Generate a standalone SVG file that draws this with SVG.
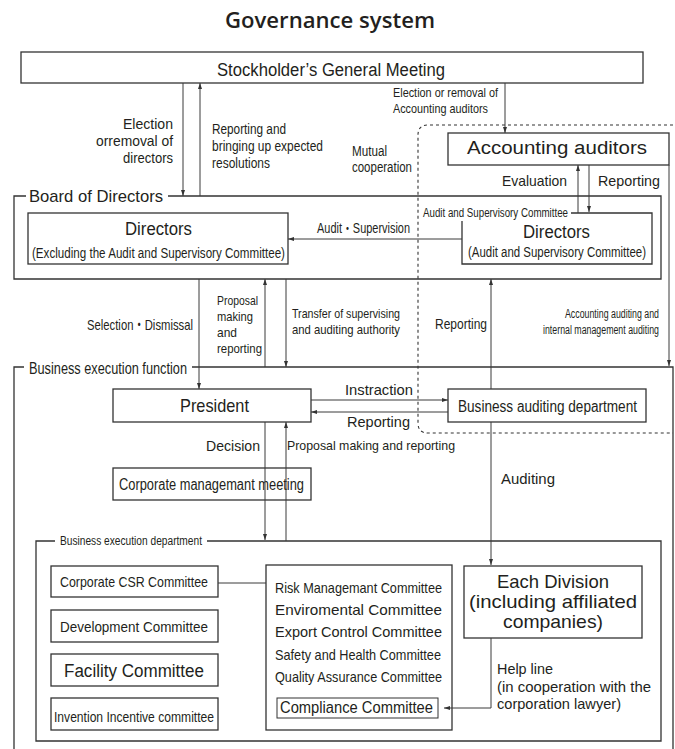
<svg xmlns="http://www.w3.org/2000/svg" width="675" height="749" viewBox="0 0 675 749">
<style>
.r{font-family:"Liberation Sans","Noto Sans CJK JP",sans-serif;fill:#231f20}
.c{font-family:"Liberation Sans Narrow","Liberation Sans","Noto Sans CJK JP",sans-serif;fill:#231f20}
.box{fill:#fff;stroke:#333;stroke-width:1.3}
.fr{fill:none;stroke:#333;stroke-width:1.3}
.ln{fill:none;stroke:#3a3a3a;stroke-width:1}
.ar{fill:none;stroke:#3a3a3a;stroke-width:1;marker-end:url(#ah)}
.dash{fill:none;stroke:#333;stroke-width:1.1;stroke-dasharray:3 3}
</style>
<defs>
<marker id="ah" viewBox="0 0 6 4" refX="6" refY="2" markerWidth="6" markerHeight="4" orient="auto" markerUnits="userSpaceOnUse"><path d="M0,0 L6,2 L0,4 z" fill="#333"/></marker>
</defs>
<rect width="675" height="749" fill="#fff"/>
<text x="225" y="28" font-family="'Open Sans','Noto Sans','Liberation Sans',sans-serif" font-size="22" font-weight="600" fill="#231f20" textLength="210" lengthAdjust="spacingAndGlyphs">Governance system</text>

<g id="frames">
<path class="dash" d="M673,125 H428 Q418,125 418,135 V423 Q418,433 428,433 H673"/>
<path class="fr" d="M26,196 H14 V279 H661 V196 H168"/>
<text class="r" x="29" y="202" font-size="17" textLength="134" lengthAdjust="spacingAndGlyphs">Board of Directors</text>
<path class="fr" d="M24,367 H14 V749 M192,367 H673 V749"/>
<text class="c" x="29" y="374" font-size="16" textLength="158" lengthAdjust="spacingAndGlyphs">Business execution function</text>
<path class="fr" d="M55,541 H36 V741 H661 V541 H207"/>
<text class="c" x="60" y="545" font-size="12" textLength="142" lengthAdjust="spacingAndGlyphs">Business execution department</text>
</g>

<g id="stockholders">
<rect class="box" x="21" y="52" width="622" height="31"/>
<text class="r" x="217" y="76" font-size="18" textLength="228" lengthAdjust="spacingAndGlyphs">Stockholder’s General Meeting</text>
</g>
<g id="accounting-auditors">
<rect class="box" x="448" y="133" width="221" height="32"/>
<text class="r" x="467" y="154" font-size="18" textLength="180" lengthAdjust="spacingAndGlyphs">Accounting auditors</text>
</g>
<g id="directors-ex">
<rect class="box" x="28" y="213" width="260" height="51"/>
<text class="r" x="125" y="235" font-size="18" textLength="67" lengthAdjust="spacingAndGlyphs">Directors</text>
<text class="c" x="32" y="258" font-size="14" textLength="253" lengthAdjust="spacingAndGlyphs">(Excluding the Audit and Supervisory Committee)</text>
</g>
<g id="directors-asc">
<path class="fr" d="M571,213 H652 V264 H462 V221"/>
<text class="c" x="423" y="217" font-size="12" textLength="145" lengthAdjust="spacingAndGlyphs">Audit and Supervisory Committee</text>
<text class="r" x="523" y="238" font-size="18" textLength="67" lengthAdjust="spacingAndGlyphs">Directors</text>
<text class="c" x="468" y="257" font-size="14" textLength="178" lengthAdjust="spacingAndGlyphs">(Audit and Supervisory Committee)</text>
</g>
<g id="president">
<rect class="box" x="113" y="389" width="198" height="33"/>
<text class="r" x="180" y="412" font-size="19" textLength="69" lengthAdjust="spacingAndGlyphs">President</text>
</g>
<g id="business-auditing">
<rect class="box" x="448" y="389" width="198" height="33"/>
<text class="r" x="458" y="412" font-size="16" textLength="179" lengthAdjust="spacingAndGlyphs">Business auditing department</text>
</g>
<g id="corporate-meeting">
<rect class="box" x="113" y="468" width="198" height="32"/>
<text class="c" x="119" y="490" font-size="16" textLength="185" lengthAdjust="spacingAndGlyphs">Corporate managemant meeting</text>
</g>
<g id="csr">
<rect class="box" x="51" y="566" width="167" height="31"/>
<text class="c" x="60" y="587" font-size="15" textLength="148" lengthAdjust="spacingAndGlyphs">Corporate CSR Committee</text>
</g>
<g id="development">
<rect class="box" x="51" y="610" width="167" height="32"/>
<text class="c" x="60" y="632" font-size="15" textLength="148" lengthAdjust="spacingAndGlyphs">Development Committee</text>
</g>
<g id="facility">
<rect class="box" x="51" y="654" width="167" height="32"/>
<text class="r" x="64" y="677" font-size="18" textLength="140" lengthAdjust="spacingAndGlyphs">Facility Committee</text>
</g>
<g id="invention">
<rect class="box" x="51" y="698" width="167" height="32"/>
<text class="c" x="54" y="722" font-size="14" textLength="160" lengthAdjust="spacingAndGlyphs">Invention Incentive committee</text>
</g>
<g id="committees">
<rect class="box" x="266" y="565" width="186" height="165"/>
<text class="c" x="275" y="593" font-size="15" textLength="167" lengthAdjust="spacingAndGlyphs">Risk Managemant Committee</text>
<text class="c" x="275" y="615" font-size="15" textLength="167" lengthAdjust="spacingAndGlyphs">Enviromental Committee</text>
<text class="c" x="275" y="637" font-size="15" textLength="167" lengthAdjust="spacingAndGlyphs">Export Control Committee</text>
<text class="c" x="275" y="660" font-size="15" textLength="166" lengthAdjust="spacingAndGlyphs">Safety and Health Committee</text>
<text class="c" x="275" y="682" font-size="15" textLength="167" lengthAdjust="spacingAndGlyphs">Quality Assurance Committee</text>
</g>
<g id="compliance">
<rect x="277" y="698" width="161" height="20" fill="#fff" stroke="#333" stroke-width="1"/>
<text class="r" x="280" y="713" font-size="16" textLength="153" lengthAdjust="spacingAndGlyphs">Compliance Committee</text>
</g>
<g id="each-division">
<rect class="box" x="464" y="566" width="178" height="72"/>
<text class="r" x="497" y="588" font-size="19" textLength="112" lengthAdjust="spacingAndGlyphs">Each Division</text>
<text class="r" x="469" y="608" font-size="19" textLength="168" lengthAdjust="spacingAndGlyphs">(including affiliated</text>
<text class="r" x="503" y="628" font-size="19" textLength="100" lengthAdjust="spacingAndGlyphs">companies)</text>
</g>

<g id="connectors">
<path class="ar" d="M183,83 V196"/>
<path class="ar" d="M200,196 V83"/>
<path class="ar" d="M505,83 V133"/>
<path class="ar" d="M669,165 V366"/>
<path class="ar" d="M578,213 V165"/>
<path class="ar" d="M589,165 V212"/>
<path class="ar" d="M462,239 H288"/>
<path class="ar" d="M199,279 V389"/>
<path class="ar" d="M265,367 V279"/>
<path class="ar" d="M286,279 V367"/>
<path class="ar" d="M491,389 V279"/>
<path class="ar" d="M491,422 V565"/>
<path class="ar" d="M311,400 H448"/>
<path class="ar" d="M448,412 H311"/>
<path class="ar" d="M265,422 V540"/>
<path class="ar" d="M286,541 V422"/>
<path class="ln" d="M218,583 H266"/>
<path class="ar" d="M491,638 V708 H444"/>
</g>

<g id="labels">
<text class="c" x="123" y="129" font-size="15" textLength="50" lengthAdjust="spacingAndGlyphs">Election</text>
<text class="c" x="96" y="146" font-size="15" textLength="77" lengthAdjust="spacingAndGlyphs">orremoval of</text>
<text class="c" x="123" y="163" font-size="15" textLength="50" lengthAdjust="spacingAndGlyphs">directors</text>
<text class="c" x="212" y="134" font-size="14" textLength="74" lengthAdjust="spacingAndGlyphs">Reporting and</text>
<text class="c" x="212" y="151" font-size="14" textLength="111" lengthAdjust="spacingAndGlyphs">bringing up expected</text>
<text class="c" x="212" y="168" font-size="14" textLength="58" lengthAdjust="spacingAndGlyphs">resolutions</text>
<text class="c" x="393" y="97" font-size="13" textLength="105" lengthAdjust="spacingAndGlyphs">Election or removal of</text>
<text class="c" x="393" y="113" font-size="13" textLength="95" lengthAdjust="spacingAndGlyphs">Accounting auditors</text>
<text class="c" x="352" y="156" font-size="14" textLength="35" lengthAdjust="spacingAndGlyphs">Mutual</text>
<text class="c" x="352" y="172" font-size="14" textLength="60" lengthAdjust="spacingAndGlyphs">cooperation</text>
<text class="r" x="502" y="186" font-size="15" textLength="65" lengthAdjust="spacingAndGlyphs">Evaluation</text>
<text class="r" x="598" y="186" font-size="15" textLength="62" lengthAdjust="spacingAndGlyphs">Reporting</text>
<text class="c" x="317" y="233" font-size="14" textLength="93" lengthAdjust="spacingAndGlyphs">Audit・Supervision</text>
<text class="c" x="87" y="330" font-size="15" textLength="106" lengthAdjust="spacingAndGlyphs">Selection・Dismissal</text>
<text class="c" x="217" y="305" font-size="13" textLength="41" lengthAdjust="spacingAndGlyphs">Proposal</text>
<text class="c" x="217" y="321" font-size="13" textLength="36" lengthAdjust="spacingAndGlyphs">making</text>
<text class="c" x="217" y="337" font-size="13" textLength="20" lengthAdjust="spacingAndGlyphs">and</text>
<text class="c" x="217" y="353" font-size="13" textLength="45" lengthAdjust="spacingAndGlyphs">reporting</text>
<text class="c" x="292" y="318" font-size="13" textLength="108" lengthAdjust="spacingAndGlyphs">Transfer of supervising</text>
<text class="c" x="292" y="334" font-size="13" textLength="108" lengthAdjust="spacingAndGlyphs">and auditing authority</text>
<text class="r" x="435" y="329" font-size="15" textLength="52" lengthAdjust="spacingAndGlyphs">Reporting</text>
<text class="c" x="565" y="318" font-size="12" textLength="94" lengthAdjust="spacingAndGlyphs">Accounting auditing and</text>
<text class="c" x="543" y="334" font-size="12" textLength="116" lengthAdjust="spacingAndGlyphs">internal management auditing</text>
<text class="r" x="345" y="395" font-size="15" textLength="68" lengthAdjust="spacingAndGlyphs">Instraction</text>
<text class="r" x="347" y="427" font-size="15" textLength="63" lengthAdjust="spacingAndGlyphs">Reporting</text>
<text class="r" x="206" y="451" font-size="15" textLength="54" lengthAdjust="spacingAndGlyphs">Decision</text>
<text class="c" x="287" y="450" font-size="13" textLength="168" lengthAdjust="spacingAndGlyphs">Proposal making and reporting</text>
<text class="r" x="501" y="484" font-size="15" textLength="54" lengthAdjust="spacingAndGlyphs">Auditing</text>
<text class="r" x="497" y="674" font-size="15" textLength="56" lengthAdjust="spacingAndGlyphs">Help line</text>
<text class="r" x="497" y="692" font-size="15" textLength="154" lengthAdjust="spacingAndGlyphs">(in cooperation with the</text>
<text class="r" x="497" y="709" font-size="15" textLength="124" lengthAdjust="spacingAndGlyphs">corporation lawyer)</text>
</g>
</svg>
